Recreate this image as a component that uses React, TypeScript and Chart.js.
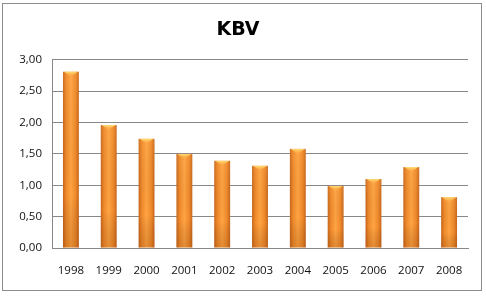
import React, { useEffect, useRef } from "react";
import { Chart, registerables } from "chart.js";

Chart.register(...registerables);

const years = ["1998", "1999", "2000", "2001", "2002", "2003", "2004", "2005", "2006", "2007", "2008"];
const kbvValues = [2.81, 1.96, 1.74, 1.5, 1.39, 1.31, 1.58, 0.99, 1.1, 1.29, 0.81];
const chartTitle = "KBV";

const barPainter = {
  id: "barPainter",
  afterDatasetsDraw(chart: any) {
    const ctx = chart.ctx;
    const meta = chart.getDatasetMeta(0);
    meta.data.forEach((bar: any) => {
      const w = bar.width;
      const left = bar.x - w / 2;
      const top = bar.y;
      const bottom = bar.base;
      const h = bottom - top;
      ctx.save();
      const g = ctx.createLinearGradient(left, 0, left + w, 0);
      g.addColorStop(0, "#c8661c");
      g.addColorStop(0.2, "#f08a2a");
      g.addColorStop(0.5, "#ffa445");
      g.addColorStop(0.8, "#f08a2a");
      g.addColorStop(1, "#c8661c");
      ctx.fillStyle = g;
      ctx.fillRect(left, top, w, h);
      const gv = ctx.createLinearGradient(0, top, 0, bottom);
      gv.addColorStop(0, "rgba(255,200,120,0.1)");
      gv.addColorStop(0.7, "rgba(0,0,0,0)");
      gv.addColorStop(1, "rgba(120,50,0,0.2)");
      ctx.fillStyle = gv;
      ctx.fillRect(left, top, w, h);
      const gc = ctx.createLinearGradient(0, top, 0, top + 5);
      gc.addColorStop(0, "rgba(255,225,120,0.95)");
      gc.addColorStop(1, "rgba(255,190,80,0)");
      ctx.fillStyle = gc;
      ctx.beginPath();
      ctx.moveTo(left + 1, top);
      ctx.lineTo(left + w - 1, top);
      ctx.lineTo(left + w / 2, top + 5);
      ctx.closePath();
      ctx.fill();
      ctx.restore();
    });
  },
};

export default function App() {
  const ref = useRef<HTMLCanvasElement>(null);
  useEffect(() => {
    if (!ref.current) return;
    const chart = new Chart(ref.current, {
      type: "bar",
      data: {
        labels: years,
        datasets: [
          {
            label: chartTitle,
            data: kbvValues,
            backgroundColor: "rgba(0,0,0,0)",
            borderWidth: 0,
            barPercentage: 0.42,
            categoryPercentage: 1,
          },
        ],
      },
      plugins: [barPainter],
      options: {
        responsive: false,
        animation: false,
        layout: { padding: { left: 8, right: 18, top: 10, bottom: 0 } },
        plugins: {
          legend: { display: false },
          tooltip: { enabled: false },
          title: {
            display: true,
            text: chartTitle,
            color: "#000",
            font: { family: "DejaVu Sans", size: 19, weight: "bold" },
            padding: { top: 9, bottom: 18 },
          },
        },
        scales: {
          x: {
            grid: { display: false, drawTicks: false },
            border: { display: true, color: "#888" },
            ticks: {
              color: "#111",
              font: { family: "Open Sans", size: 11.5 },
              padding: 16,
              maxRotation: 0,
            },
            afterFit: (s: any) => {
              s.height = 48;
            },
          },
          y: {
            min: 0,
            max: 3,
            grid: { color: "#888", drawTicks: false },
            border: { display: true, color: "#888" },
            ticks: {
              stepSize: 0.5,
              color: "#111",
              padding: 10,
              font: { family: "Open Sans", size: 11.5 },
              callback: (v: any) => Number(v).toFixed(2).replace(".", ","),
            },
            afterFit: (s: any) => {
              s.width = 44;
            },
          },
        },
      },
    });
    return () => chart.destroy();
  }, []);
  return (
    <div style={{ position: "fixed", left: 0, top: 0, width: 486, height: 296, background: "#fff" }}>
      <div
        style={{
          position: "absolute",
          left: 2,
          top: 3,
          width: 478,
          height: 286,
          border: "1px solid #8c8c8c",
        }}
      />
      <canvas ref={ref} width={486} height={296} style={{ position: "absolute", left: 0, top: 0 }} />
    </div>
  );
}
